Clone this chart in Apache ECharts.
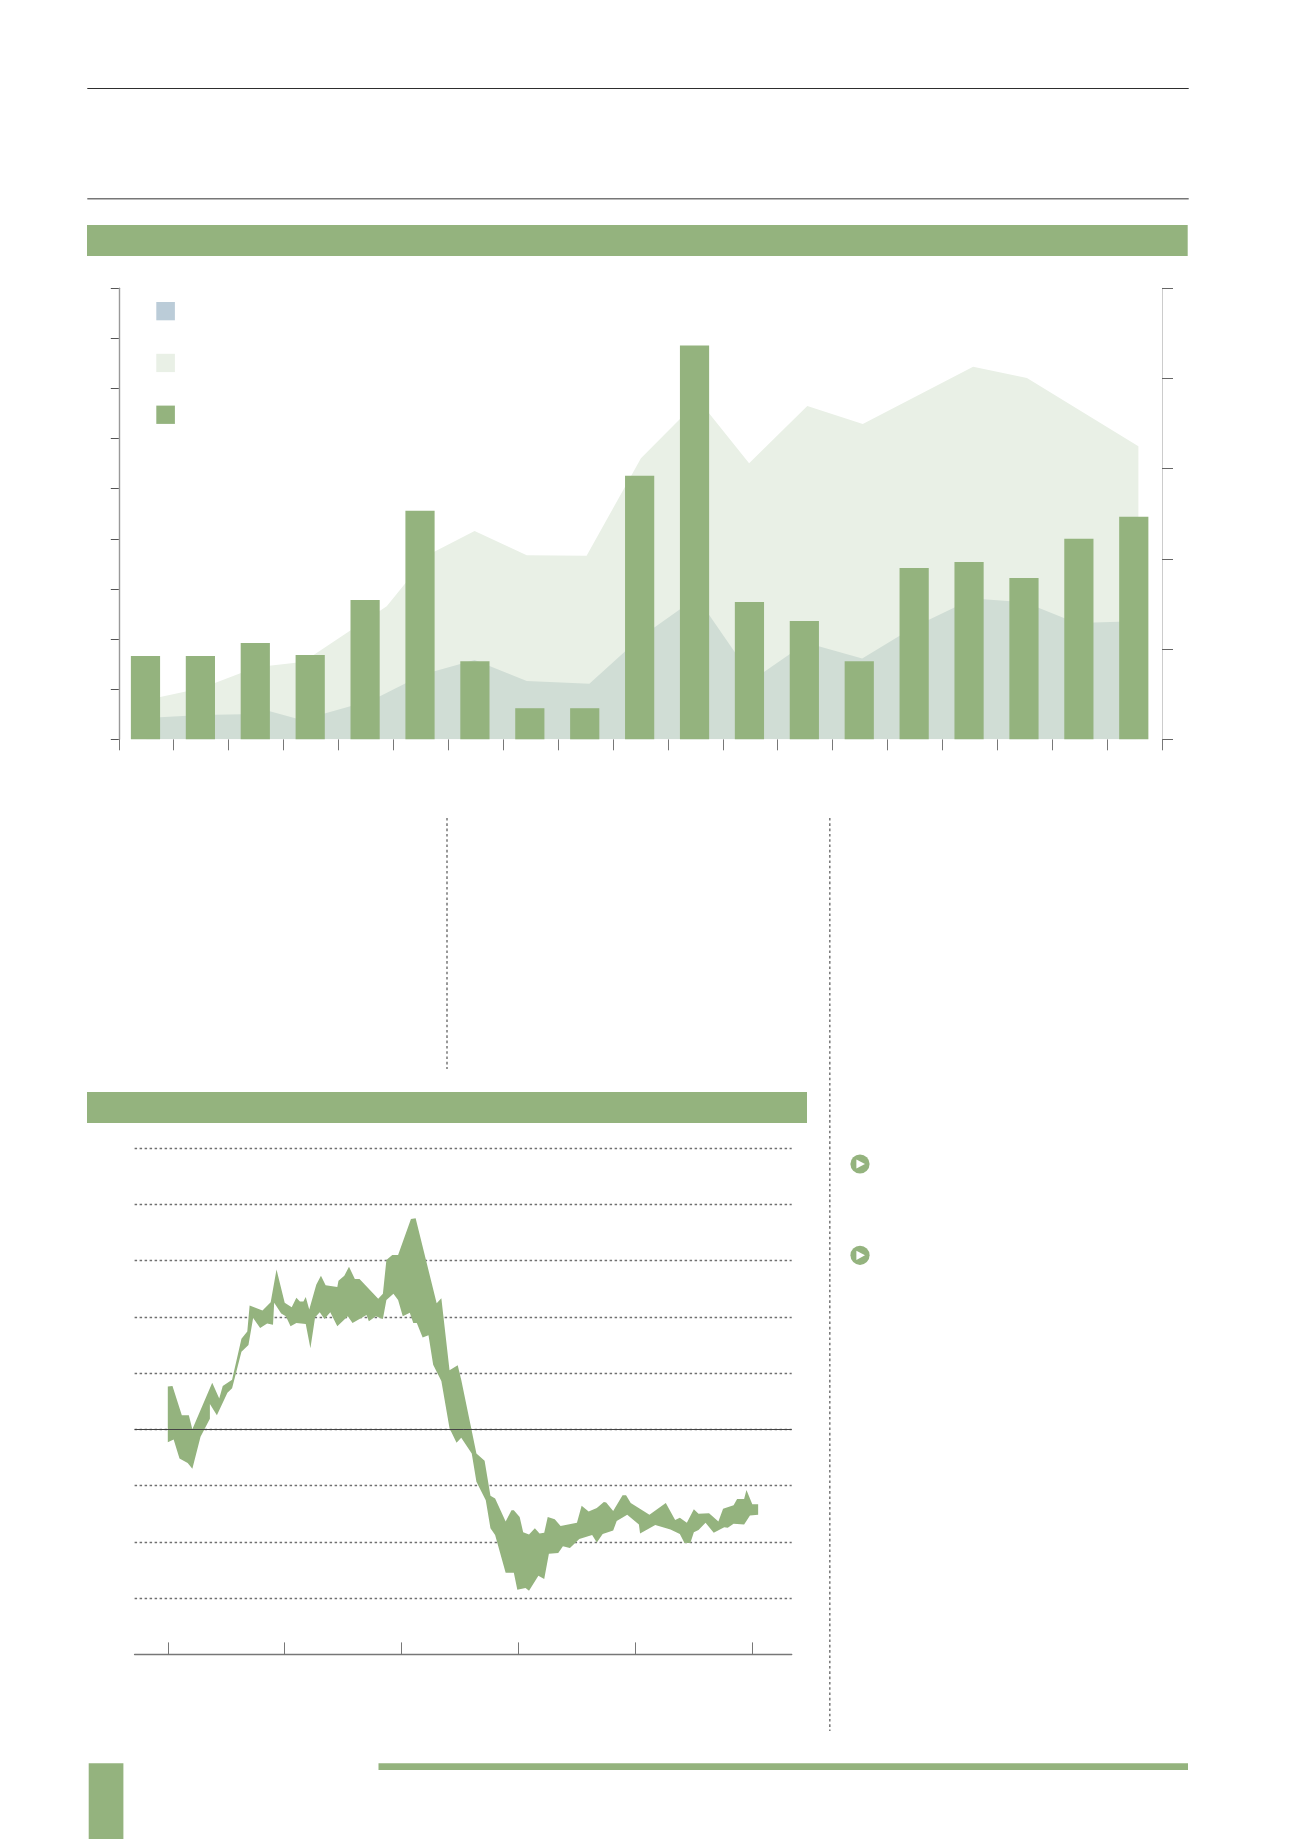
<!DOCTYPE html>
<html>
<head>
<meta charset="utf-8">
<script src="https://cdn.jsdelivr.net/npm/echarts@6/dist/echarts.min.js"></script>
<style>html,body{margin:0;padding:0;background:#fff}#page{width:1300px;height:1839px}</style>
</head>
<body>
<div id="page"></div>
<script>
// Upper chart: bars on the left axis, two overlapping areas on the right axis
const periods = ['01','02','03','04','05','06','07','08','09','10','11','12','13','14','15','16','17','18','19'];
const barValues = [8.3,8.3,9.6,8.4,13.9,22.8,7.8,3.1,3.1,26.3,39.3,13.7,11.8,7.8,17.1,17.7,16.1,20.0,22.2];
const paleAreaX = [0.50,1.22,1.50,2.50,3.22,3.50,4.88,5.64,6.48,7.43,8.52,9.51,10.56,11.48,12.54,13.55,15.56,16.54,18.57];
const paleAreaY = [8.7,10.6,11.3,16.0,17.0,18.3,29.5,40.9,46.2,40.8,40.7,62.3,75.2,61.2,73.9,69.9,82.6,80.1,65.0];
const blueAreaX = [0.50,1.50,2.50,2.75,3.33,4.62,5.56,5.75,6.48,7.43,8.57,9.51,10.53,11.56,12.52,13.54,14.50,15.56,16.50,17.44,18.53];
const blueAreaY = [4.7,5.4,5.6,6.2,4.3,8.7,14.5,15.1,17.6,12.9,12.3,22.7,31.5,13.3,21.4,17.9,25.0,31.2,30.4,25.8,26.2];

// Lower chart: edges of the filled range, years from the first tick against the index level
const rangeTicks = [0,1,2,3,4,5];
const upperX = [0.00,0.04,0.12,0.18,0.21,0.38,0.44,0.47,0.55,0.63,0.68,0.70,0.81,0.88,0.93,1.00,1.06,1.10,1.13,1.16,1.18,1.21,1.27,1.31,1.35,1.45,1.46,1.51,1.55,1.60,1.64,1.80,1.84,1.87,1.92,1.97,2.08,2.12,2.30,2.34,2.41,2.48,2.51,2.64,2.71,2.76,2.80,2.89,2.94,2.96,3.01,3.04,3.09,3.14,3.18,3.22,3.25,3.31,3.36,3.50,3.54,3.60,3.67,3.73,3.75,3.81,3.89,3.92,3.96,4.12,4.26,4.34,4.38,4.44,4.50,4.54,4.63,4.71,4.75,4.84,4.87,4.93,4.95,5.00,5.05];
const upperY = [7.6,7.7,2.5,2.5,0.0,8.3,5.5,7.7,8.8,16.1,17.4,22.0,21.1,22.6,28.4,22.5,21.7,23.4,22.7,22.7,23.5,21.3,25.7,27.3,25.6,25.3,26.4,27.3,28.9,26.7,26.7,23.2,24.1,30.1,31.0,31.0,37.4,37.5,22.4,23.3,10.5,11.4,8.8,-4.3,-5.6,-11.8,-12.3,-16.4,-14.4,-14.4,-15.6,-18.3,-18.7,-17.6,-18.5,-18.4,-15.6,-16.0,-17.2,-16.6,-13.6,-14.6,-14.0,-12.9,-13.0,-14.5,-11.7,-11.7,-13.1,-15.2,-13.1,-16.1,-15.7,-16.6,-14.2,-15.0,-14.9,-16.4,-14.1,-13.5,-12.4,-12.4,-10.8,-13.3,-13.3];
const lowerX = [0.00,0.05,0.10,0.17,0.21,0.28,0.36,0.36,0.42,0.51,0.55,0.63,0.69,0.73,0.79,0.85,0.90,0.91,0.97,1.01,1.05,1.10,1.18,1.22,1.26,1.30,1.34,1.39,1.45,1.54,1.58,1.70,1.72,1.78,1.84,1.87,1.93,1.97,2.01,2.07,2.10,2.13,2.18,2.23,2.27,2.34,2.41,2.47,2.51,2.60,2.64,2.72,2.76,2.80,2.89,2.96,2.99,3.06,3.09,3.17,3.22,3.26,3.34,3.38,3.44,3.52,3.63,3.67,3.72,3.81,3.84,3.93,4.03,4.04,4.17,4.30,4.38,4.42,4.47,4.50,4.54,4.60,4.67,4.76,4.79,4.84,4.93,4.98,5.05];
const lowerY = [-2.3,-1.8,-5.2,-6.0,-7.0,-1.3,1.9,4.5,2.5,6.5,7.3,13.8,15.0,19.8,18.0,18.8,18.6,22.5,20.6,20.1,18.3,18.9,18.7,14.4,19.9,20.8,19.6,20.8,18.3,20.1,18.9,20.3,19.2,20.1,19.6,23.0,24.1,23.0,20.1,20.7,18.9,18.9,16.3,16.7,11.5,8.6,0.2,-2.4,-1.5,-4.3,-9.3,-12.6,-17.6,-18.8,-25.5,-25.5,-28.5,-28.2,-28.7,-26.0,-26.6,-22.1,-22.0,-20.8,-21.1,-19.5,-18.8,-20.1,-18.6,-18.0,-16.3,-15.2,-16.9,-18.5,-17.0,-17.8,-18.6,-20.2,-20.2,-18.3,-17.9,-16.6,-18.4,-17.4,-17.5,-16.8,-16.9,-15.3,-15.2];

const GREEN = '#94B37E', PALE = '#E9F0E6', BLUE_SWATCH = '#BBCCD8', OVERLAP = '#D0DDD5';
const zip = (xs, ys) => xs.map((x, i) => [x, ys[i]]);
// Bars sit a hair left of each period's centre on the shared 0-19 scale
const barCentres = periods.map((_, i) => i + 0.486);

// Page furniture around the two charts
function rule(x1, y1, x2, y2, stroke, width, dash) {
  return { type: 'line', silent: true, z: 1,
    shape: { x1, y1, x2, y2 },
    style: { stroke, lineWidth: width, lineDash: dash || null } };
}
function block(x, y, width, height) {
  return { type: 'rect', silent: true, z: 1, shape: { x, y, width, height }, style: { fill: GREEN } };
}
function playBadge(cx, cy) {
  return [
    { type: 'circle', silent: true, z: 1, shape: { cx, cy, r: 9.6 }, style: { fill: GREEN } },
    { type: 'polygon', silent: true, z: 2,
      shape: { points: [[cx - 3.6, cy - 4.6], [cx - 3.6, cy + 4.6], [cx + 5, cy]] },
      style: { fill: '#fff' } }
  ];
}
const furniture = [
  rule(87.3, 88.5, 1188.7, 88.5, '#2e2e2e', 1.2),
  rule(87.3, 198.8, 1188.7, 198.8, '#777', 1.4),
  block(87, 225, 1100.7, 31),
  block(87, 1092, 720, 31),
  rule(447, 818, 447, 1069, '#777', 1.5, [2.6, 2.7]),
  rule(829.8, 818, 829.8, 1731, '#777', 1.5, [2.6, 2.7]),
  ...playBadge(860, 1164),
  ...playBadge(860, 1255.3),
  block(88.7, 1763.3, 34.7, 75.7),
  block(378.5, 1763.3, 809.5, 6.7)
];

const chart = echarts.init(document.getElementById('page'), null, { renderer: 'canvas', width: 1300, height: 1839 });

chart.setOption({
  animation: false,
  backgroundColor: '#fff',
  graphic: { elements: furniture },
  legend: {
    orient: 'vertical', left: 156.3, top: 302,
    itemWidth: 18.6, itemHeight: 18.3, itemGap: 33.5,
    padding: 0, selectedMode: false,
    icon: 'rect',
    formatter: () => '',
    data: ['Blue area', 'Pale area', 'Bars']
  },
  grid: [
    { left: 118.8, top: 288.3, width: 1043.2, height: 451 },
    { left: 134.6, top: 1148, width: 657.1, height: 506.4 }
  ],
  xAxis: [
    { gridIndex: 0, type: 'category', data: periods, boundaryGap: true,
      axisLine: { show: false },
      axisTick: { show: true, length: 11, lineStyle: { color: '#777', width: 1 } },
      axisLabel: { show: false }, splitLine: { show: false } },
    { gridIndex: 0, type: 'value', min: 0, max: 19, show: false },
    { gridIndex: 1, type: 'value', min: -0.284, max: 5.337,
      axisLine: { onZero: false, lineStyle: { color: '#777', width: 1.4 } },
      axisTick: { show: true, inside: true, length: 12, customValues: rangeTicks, lineStyle: { color: '#777', width: 1 } },
      axisLabel: { show: false }, splitLine: { show: false } }
  ],
  yAxis: [
    { gridIndex: 0, type: 'value', min: 0, max: 45, interval: 5,
      axisLine: { show: true, lineStyle: { color: '#999', width: 1.4 } },
      axisTick: { show: true, length: 8, lineStyle: { color: '#555', width: 1 } },
      axisLabel: { show: false }, splitLine: { show: false } },
    { gridIndex: 0, type: 'value', min: 0, max: 100, interval: 20, position: 'right',
      axisLine: { show: true, lineStyle: { color: '#ccc', width: 1 } },
      axisTick: { show: true, length: 11, lineStyle: { color: '#666', width: 1 } },
      axisLabel: { show: false }, splitLine: { show: false } },
    { gridIndex: 1, type: 'value', min: -40, max: 50, interval: 10,
      axisLine: { show: false }, axisTick: { show: false }, axisLabel: { show: false },
      splitLine: { show: true, showMinLine: false, lineStyle: { color: '#707070', width: 1.3, type: [2.5, 2.5] } } }
  ],
  series: [
    { name: 'Pale area', type: 'line', xAxisIndex: 1, yAxisIndex: 1, z: 2,
      data: zip(paleAreaX, paleAreaY), symbol: 'none',
      lineStyle: { width: 0 }, itemStyle: { color: PALE },
      areaStyle: { color: PALE, opacity: 1 } },
    { name: 'Blue area', type: 'line', xAxisIndex: 1, yAxisIndex: 1, z: 3,
      data: zip(blueAreaX, blueAreaY), symbol: 'none',
      lineStyle: { width: 0 }, itemStyle: { color: BLUE_SWATCH },
      areaStyle: { color: OVERLAP, opacity: 1 } },
    { name: 'Bars', type: 'bar', xAxisIndex: 1, yAxisIndex: 0, z: 4,
      data: zip(barCentres, barValues), barWidth: 29.2, itemStyle: { color: GREEN } },
    { name: 'Zero line', type: 'line', xAxisIndex: 2, yAxisIndex: 2, z: 2,
      data: [], symbol: 'none',
      markLine: { silent: true, symbol: 'none', label: { show: false },
        lineStyle: { color: '#444', width: 1, type: 'solid' }, data: [{ yAxis: 0 }] } },
    { name: 'Range', type: 'custom', xAxisIndex: 2, yAxisIndex: 2, z: 3,
      coordinateSystem: 'cartesian2d',
      data: [[0, 0]],
      silent: true,
      renderItem: (params, api) => {
        const top = zip(upperX, upperY).map(p => api.coord(p));
        const bottom = zip(lowerX, lowerY).map(p => api.coord(p)).reverse();
        return { type: 'polygon', shape: { points: top.concat(bottom) }, style: { fill: GREEN } };
      } }
  ]
});
</script>
</body>
</html>
